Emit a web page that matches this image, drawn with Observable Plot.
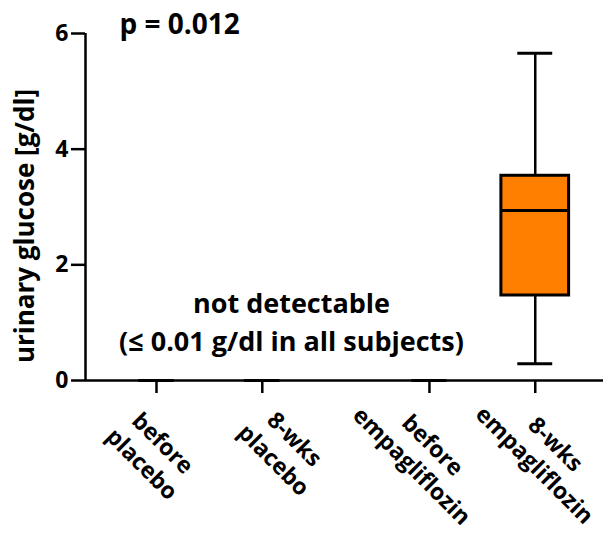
<!DOCTYPE html>
<html><head><meta charset="utf-8">
<script src="https://cdn.jsdelivr.net/npm/d3@7"></script>
<script src="https://cdn.jsdelivr.net/npm/@observablehq/plot@0.6"></script>
<style>body{margin:0;background:#fff}</style>
</head><body><div id="chart"></div>
<script>
const categories = ["before\nplacebo", "8-wks\nplacebo", "before\nempagliflozin", "8-wks\nempagliflozin"];
const whiskerLow = [0, 0, 0, 0.29];
const q1Values = [0, 0, 0, 1.47];
const medianValues = [0, 0, 0, 2.94];
const q3Values = [0, 0, 0, 3.54];
const whiskerHigh = [0, 0, 0, 5.66];
const yTicks = [0, 2, 4, 6];
const pValueText = "p = 0.012";
const yLabel = "urinary glucose [g/dl]";
const noteText = "not detectable\n(≤ 0.01 g/dl in all subjects)";

const FONT = "Open Sans";
const groupGap = 0.58;
const data = categories.map((c, i) => ({
  cat: c, pos: i + (i >= 2 ? groupGap : 0),
  lo: whiskerLow[i], q1: q1Values[i], med: medianValues[i], q3: q3Values[i], hi: whiskerHigh[i]
}));
const boxes = data.filter(d => d.q3 > d.q1);
const boxHalf = 0.32, capHalf = 0.165;
const xDomain = [-0.671, 4.225];
const labelOffsets = [[-3, 72], [23, 68], [-6, 74], [11, 73]];

const labelMarks = data.map((d, i) => Plot.text([d], {
  x: "pos", frameAnchor: "bottom", text: "cat", rotate: 45,
  textAnchor: "middle", lineAnchor: "middle", lineHeight: 1.28,
  dx: labelOffsets[i][0], dy: labelOffsets[i][1],
  fontSize: 23, fontWeight: "bold", fontFamily: FONT, fill: "black"
}));

const chart = Plot.plot({
  width: 603, height: 536,
  marginLeft: 85, marginRight: 0, marginTop: 33, marginBottom: 156,
  style: {background: "white", color: "black"},
  x: {type: "linear", domain: xDomain},
  y: {domain: [0, 6]},
  marks: [
    Plot.ruleX(boxes, {x: "pos", y1: "q3", y2: "hi", stroke: "black", strokeWidth: 2.5}),
    Plot.ruleX(boxes, {x: "pos", y1: "lo", y2: "q1", stroke: "black", strokeWidth: 2.5}),
    Plot.rectY(boxes, {x1: d => d.pos - boxHalf, x2: d => d.pos + boxHalf, y1: "q1", y2: "q3",
      fill: "#FF8000", stroke: "black", strokeWidth: 3}),
    Plot.ruleY(boxes, {y: "med", x1: d => d.pos - boxHalf, x2: d => d.pos + boxHalf, stroke: "black", strokeWidth: 3}),
    Plot.ruleY(data, {y: "hi", x1: d => d.pos - capHalf, x2: d => d.pos + capHalf, stroke: "black", strokeWidth: 3}),
    Plot.ruleY(data, {y: "lo", x1: d => d.pos - capHalf, x2: d => d.pos + capHalf, stroke: "black", strokeWidth: 3}),
    Plot.ruleY([0], {stroke: "black", strokeWidth: 2.5}),
    Plot.ruleX([xDomain[0]], {y1: 0, y2: 6, stroke: "black", strokeWidth: 2.5}),
    Plot.axisY({ticks: yTicks, tickSize: 14, tickPadding: 3, strokeWidth: 2.5, label: null,
      tickFormat: d3.format("d"),
      fontSize: 23, fontWeight: "bold", fontFamily: FONT, stroke: "black", fill: "black"}),
    Plot.axisX({ticks: data.map(d => d.pos), tickSize: 13, tickFormat: () => "", strokeWidth: 2.5,
      label: null, stroke: "black"}),
    ...labelMarks,
    Plot.text([pValueText], {frameAnchor: "top-left", text: d => d, textAnchor: "start", lineAnchor: "bottom",
      dx: 34, dy: 0, fontSize: 28, fontWeight: "bold", fontFamily: FONT, fill: "black"}),
    Plot.text([yLabel], {frameAnchor: "left", text: d => d, rotate: -90, textAnchor: "middle", lineAnchor: "bottom",
      dx: -52, dy: 19, fontSize: 26, fontWeight: "bold", fontFamily: FONT, fill: "black"}),
    Plot.text([noteText], {frameAnchor: "bottom-left", text: d => d, textAnchor: "middle", lineAnchor: "bottom",
      dx: 206, dy: -30, fontSize: 27, lineHeight: 1.4, fontWeight: "bold", fontFamily: FONT, fill: "black"})
  ]
});
document.getElementById("chart").appendChild(chart);
</script>
</body></html>
